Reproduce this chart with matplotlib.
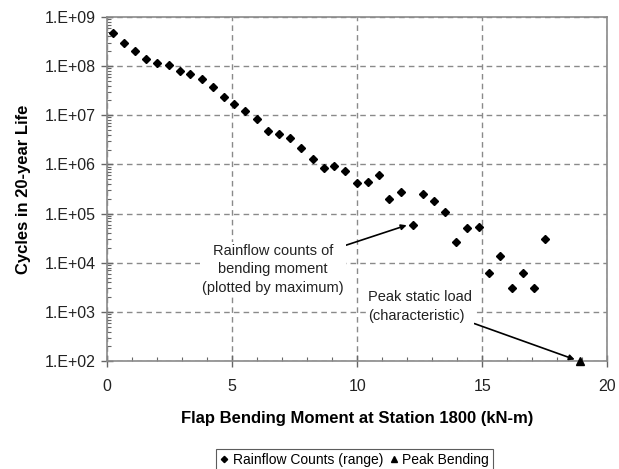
import matplotlib.pyplot as plt
import numpy as np
from matplotlib.ticker import LogLocator, FuncFormatter, MultipleLocator

plt.rcParams['font.family'] = ['Liberation Sans', 'DejaVu Sans']

# rainflow counts (range)
moment = np.array([0.23, 0.69, 1.12, 1.56, 2.01, 2.47, 2.91, 3.32, 3.79, 4.24,
                   4.68, 5.09, 5.53, 6.00, 6.45, 6.89, 7.32, 7.76, 8.23, 8.68,
                   9.09, 9.53, 9.99, 10.43, 10.88, 11.29, 11.75, 12.23, 12.65, 13.08,
                   13.51, 13.96, 14.41, 14.88, 15.29, 15.73, 16.19, 16.65, 17.07, 17.52])
cycles = np.array([4.6e8, 3.0e8, 2.0e8, 1.4e8, 1.13e8, 1.05e8, 7.8e7, 6.8e7, 5.4e7, 3.7e7,
                   2.4e7, 1.7e7, 1.23e7, 8.5e6, 4.8e6, 4.1e6, 3.5e6, 2.2e6, 1.26e6, 8.6e5,
                   9.3e5, 7.3e5, 4.1e5, 4.4e5, 6.0e5, 1.95e5, 2.7e5, 6.0e4, 2.5e5, 1.78e5,
                   1.07e5, 2.6e4, 5.1e4, 5.4e4, 6.3e3, 1.38e4, 3.1e3, 6.3e3, 3.1e3, 3.1e4])
peak_x = [18.9]
peak_y = [1.0e2]

fig = plt.figure(figsize=(6.19, 4.69), dpi=100)
ax = fig.add_axes([0.173, 0.230, 0.808, 0.734])

ax.plot(moment, cycles, 'D', color='black', markersize=4, linestyle='none',
        label='Rainflow Counts (range)', zorder=3)
ax.plot(peak_x, peak_y, '^', color='black', markersize=5.5, linestyle='none',
        label='Peak Bending', zorder=3, clip_on=False)

ax.set_yscale('log')
ax.set_xlim(0, 20)
ax.set_ylim(1e2, 1e9)

ax.xaxis.set_major_locator(MultipleLocator(5))
ax.xaxis.set_minor_locator(MultipleLocator(1))
ax.yaxis.set_major_locator(LogLocator(base=10, numticks=20))
ax.yaxis.set_minor_locator(LogLocator(base=10, subs=np.arange(2, 10), numticks=20))
ax.yaxis.set_major_formatter(FuncFormatter(lambda v, p: '1.E+%02d' % round(np.log10(v))))
ax.yaxis.set_minor_formatter(FuncFormatter(lambda v, p: ''))

ax.grid(True, which='major', linestyle=(0, (4, 3)), color='#8a8a8a', linewidth=1)
for s in ax.spines.values():
    s.set_color('#8a8a8a')
    s.set_linewidth(1.2)

ax.tick_params(which='major', direction='inout', length=8, width=1, color='#666666',
               labelsize=11.5, labelcolor='#222222', pad=4)
ax.tick_params(which='minor', direction='in', length=3, width=0.8, color='#666666')
ax.tick_params(axis='x', which='major', pad=9)

ax.set_xlabel('Flap Bending Moment at Station 1800 (kN-m)', fontsize=12, fontweight='bold')
ax.set_ylabel('Cycles in 20-year Life', fontsize=12, fontweight='bold')
ax.xaxis.set_label_coords(0.5, -0.145)
ax.yaxis.set_label_coords(-0.152, 0.5)

ax.annotate('Rainflow counts of\nbending moment\n(plotted by maximum)',
            xy=(11.98, 5.8e4), xytext=(6.64, 7.4e3), ha='center', va='center',
            fontsize=10.5, color='#222222', linespacing=1.4,
            bbox=dict(boxstyle='square,pad=0.15', fc='white', ec='none'),
            arrowprops=dict(arrowstyle='-|>', color='black', lw=1.2,
                            shrinkA=0, shrinkB=0, mutation_scale=8))
ax.annotate('Peak static load\n(characteristic)',
            xy=(18.7, 1.08e2), xytext=(10.44, 1.3e3), ha='left', va='center',
            fontsize=10.5, color='#222222', linespacing=1.4,
            bbox=dict(boxstyle='square,pad=0.15', fc='white', ec='none'),
            arrowprops=dict(arrowstyle='-|>', color='black', lw=1.2,
                            shrinkA=0, shrinkB=0, mutation_scale=8,
                            relpos=(0.95, 0.05)))

leg = fig.legend(loc='lower center', bbox_to_anchor=(0.573, -0.019), ncol=2, fontsize=10,
                 frameon=True, fancybox=False, edgecolor='#333333', handlelength=0.6,
                 handletextpad=0.3, columnspacing=0.5, borderpad=0.3, markerscale=0.8)
leg.get_frame().set_linewidth(0.8)

fig.savefig('out.png', dpi=100)
